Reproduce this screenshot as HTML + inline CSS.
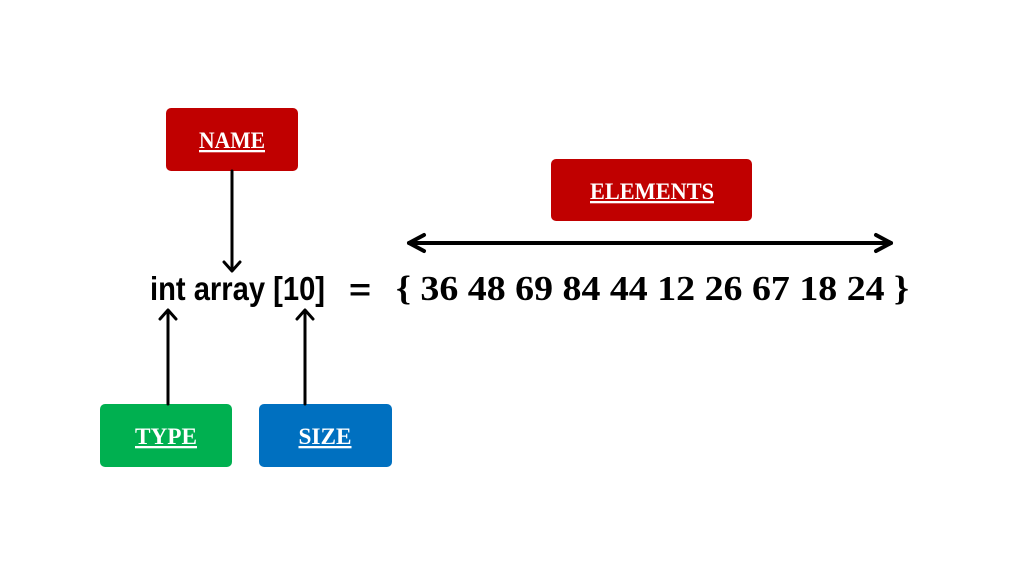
<!DOCTYPE html>
<html><head><style>body{margin:0;background:#fff}</style></head><body>
<svg width="1024" height="576" xmlns="http://www.w3.org/2000/svg">
<rect width="1024" height="576" fill="#fff"/>
<rect x="166" y="108" width="132" height="63" rx="5" fill="#c00000"/>
<rect x="551" y="159" width="201" height="62" rx="5" fill="#c00000"/>
<rect x="100" y="404" width="132" height="63" rx="5" fill="#00b050"/>
<rect x="259" y="404" width="133" height="63" rx="5" fill="#0070c0"/>
<g font-family="Liberation Serif, serif" font-weight="bold" fill="#fff" font-size="23" text-anchor="middle" text-decoration="underline">
<text x="232" y="148" textLength="66" lengthAdjust="spacingAndGlyphs">NAME</text>
<text x="652" y="199" textLength="124" lengthAdjust="spacingAndGlyphs">ELEMENTS</text>
<text x="166" y="444" textLength="62" lengthAdjust="spacingAndGlyphs">TYPE</text>
<text x="325" y="444" textLength="53" lengthAdjust="spacingAndGlyphs">SIZE</text>
</g>
<g stroke="#000" stroke-width="3" fill="none" stroke-linecap="round" stroke-linejoin="round">
<line x1="232" y1="171" x2="232" y2="270"/><polyline points="224,262 232,271 240,262"/>
<line x1="168" y1="404" x2="168" y2="311"/><polyline points="160,319 168,310 176,319"/>
<line x1="305" y1="404" x2="305" y2="311"/><polyline points="297,319 305,310 313,319"/>
<line x1="409" y1="243" x2="891" y2="243" stroke-width="4"/>
<polyline points="424,235 409,243 424,251" stroke-width="4"/>
<polyline points="876,235 891,243 876,251" stroke-width="4"/>
</g>
<text x="150" y="300" font-family="Liberation Sans, sans-serif" font-weight="bold" font-size="33" textLength="175" lengthAdjust="spacingAndGlyphs">int array [10]</text>
<text x="349" y="300" font-family="Liberation Sans, sans-serif" font-weight="bold" font-size="31" textLength="22" lengthAdjust="spacingAndGlyphs">=</text>
<text x="396" y="300" font-family="Liberation Serif, serif" font-weight="bold" font-size="35" textLength="513" lengthAdjust="spacingAndGlyphs">{ 36 48 69 84 44 12 26 67 18 24 }</text>
</svg>
</body></html>
